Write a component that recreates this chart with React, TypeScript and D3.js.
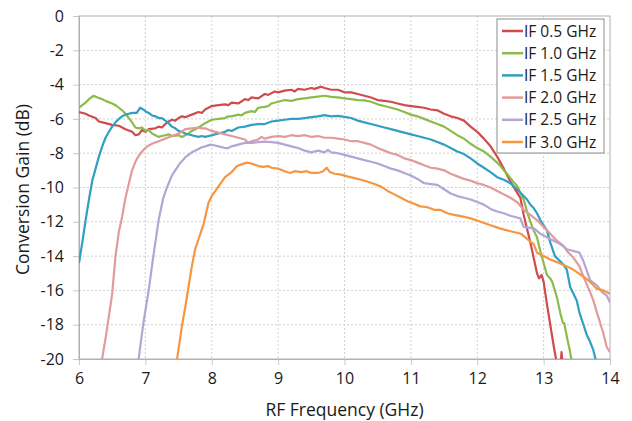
import React, { useEffect, useRef } from 'react';
import * as d3 from 'd3';

// Conversion gain vs RF frequency, one array of [GHz, dB] per IF
const if05: [number, number][] = [
  [6.0, -5.6], [6.1, -5.7], [6.15, -5.8], [6.25, -5.95], [6.3, -6.15], [6.4, -6.25], [6.5, -6.35], [6.6, -6.4],
  [6.7, -6.6], [6.8, -6.75], [6.85, -6.95], [6.9, -6.9], [6.95, -6.65], [7.0, -6.75], [7.05, -6.6], [7.15, -6.55],
  [7.2, -6.45], [7.25, -6.5], [7.3, -6.3], [7.35, -6.15], [7.4, -6.05], [7.45, -6.1], [7.5, -5.95], [7.55, -5.85],
  [7.6, -5.9], [7.7, -5.75], [7.8, -5.6], [7.85, -5.65], [7.9, -5.45], [8.0, -5.25], [8.1, -5.2], [8.2, -5.15],
  [8.25, -5.2], [8.3, -5.05], [8.4, -5.1], [8.5, -4.85], [8.55, -4.9], [8.6, -4.75], [8.7, -4.8], [8.8, -4.55],
  [8.85, -4.6], [8.95, -4.4], [9.0, -4.45], [9.1, -4.35], [9.2, -4.3], [9.25, -4.4], [9.3, -4.25], [9.4, -4.3],
  [9.5, -4.2], [9.55, -4.25], [9.65, -4.12], [9.7, -4.2], [9.8, -4.3], [9.9, -4.3], [10.0, -4.45], [10.1, -4.45],
  [10.2, -4.55], [10.3, -4.65], [10.4, -4.75], [10.5, -4.9], [10.6, -4.95], [10.7, -5.0], [10.8, -5.1], [10.9, -5.2],
  [11.0, -5.25], [11.1, -5.3], [11.2, -5.35], [11.3, -5.45], [11.4, -5.5], [11.5, -5.7], [11.6, -5.85], [11.7, -5.95],
  [11.8, -6.1], [11.9, -6.45], [12.0, -6.75], [12.1, -7.15], [12.2, -7.6], [12.3, -8.2], [12.4, -8.9], [12.5, -9.65],
  [12.6, -10.3], [12.65, -10.6], [12.7, -11.6], [12.75, -12.4], [12.8, -13.2], [12.85, -14.1], [12.9, -15.0],
  [12.93, -15.3], [12.97, -15.1], [13.0, -15.5], [13.05, -16.8], [13.1, -18.0], [13.15, -19.2], [13.2, -20.3],
  [13.24, -21.0], [13.27, -19.6], [13.3, -21.0],
];

const if10: [number, number][] = [
  [6.0, -5.35], [6.05, -5.2], [6.1, -5.05], [6.15, -4.85], [6.22, -4.65], [6.28, -4.75], [6.35, -4.85], [6.4, -4.95],
  [6.5, -5.1], [6.55, -5.2], [6.6, -5.35], [6.65, -5.5], [6.7, -5.7], [6.75, -5.95], [6.8, -6.2], [6.85, -6.5],
  [6.9, -6.55], [6.95, -6.5], [7.0, -6.7], [7.05, -6.65], [7.1, -6.85], [7.15, -6.95], [7.2, -7.05], [7.3, -6.95],
  [7.35, -6.9], [7.4, -7.0], [7.5, -6.95], [7.55, -7.05], [7.6, -6.95], [7.65, -6.85], [7.7, -6.7], [7.8, -6.5],
  [7.9, -6.25], [7.95, -6.15], [8.0, -6.05], [8.1, -6.0], [8.2, -5.95], [8.25, -5.85], [8.3, -5.85], [8.4, -5.75],
  [8.45, -5.8], [8.5, -5.65], [8.6, -5.55], [8.65, -5.6], [8.7, -5.35], [8.8, -5.3], [8.85, -5.25], [8.9, -5.1],
  [9.0, -5.0], [9.1, -4.9], [9.2, -4.95], [9.3, -4.85], [9.4, -4.8], [9.5, -4.75], [9.6, -4.7], [9.7, -4.65],
  [9.8, -4.72], [9.9, -4.75], [10.0, -4.8], [10.1, -4.85], [10.2, -4.9], [10.3, -4.92], [10.4, -5.0], [10.5, -5.15],
  [10.6, -5.25], [10.7, -5.35], [10.8, -5.45], [10.9, -5.6], [11.0, -5.75], [11.1, -5.85], [11.2, -6.0], [11.3, -6.15],
  [11.4, -6.3], [11.5, -6.45], [11.6, -6.7], [11.7, -6.95], [11.8, -7.15], [11.9, -7.45], [12.0, -7.7], [12.1, -7.9],
  [12.2, -8.2], [12.3, -8.55], [12.35, -8.75], [12.4, -9.0], [12.45, -9.2], [12.5, -9.45], [12.55, -9.7], [12.6, -9.9],
  [12.65, -10.3], [12.7, -10.7], [12.75, -11.4], [12.8, -12.0], [12.85, -12.5], [12.9, -12.9], [12.95, -13.7],
  [13.0, -14.4], [13.05, -15.1], [13.1, -15.3], [13.13, -15.5], [13.2, -16.4], [13.25, -17.3], [13.29, -17.9],
  [13.31, -17.9], [13.35, -18.7], [13.4, -19.6], [13.43, -20.3],
];

const if15: [number, number][] = [
  [6.0, -14.4], [6.05, -13.2], [6.1, -11.9], [6.15, -10.7], [6.2, -9.6], [6.25, -8.9], [6.3, -8.2], [6.35, -7.6],
  [6.4, -7.1], [6.45, -6.75], [6.5, -6.45], [6.55, -6.2], [6.6, -6.0], [6.65, -5.85], [6.7, -5.75], [6.75, -5.7],
  [6.8, -5.65], [6.87, -5.65], [6.92, -5.35], [6.97, -5.45], [7.0, -5.55], [7.05, -5.65], [7.1, -5.8], [7.15, -5.85],
  [7.2, -5.95], [7.25, -5.95], [7.3, -6.1], [7.35, -6.25], [7.4, -6.45], [7.45, -6.55], [7.5, -6.7], [7.55, -6.75],
  [7.6, -6.85], [7.7, -6.95], [7.8, -7.05], [7.85, -7.0], [7.9, -7.05], [8.0, -6.95], [8.05, -6.9], [8.1, -6.85],
  [8.2, -6.75], [8.25, -6.65], [8.3, -6.7], [8.4, -6.5], [8.5, -6.45], [8.6, -6.35], [8.7, -6.3], [8.8, -6.3],
  [8.9, -6.15], [9.0, -6.1], [9.1, -6.05], [9.2, -6.0], [9.3, -6.0], [9.4, -5.95], [9.5, -5.9], [9.6, -5.85],
  [9.7, -5.78], [9.8, -5.85], [9.9, -5.82], [10.0, -5.88], [10.1, -5.95], [10.2, -6.1], [10.3, -6.2], [10.4, -6.3],
  [10.5, -6.4], [10.6, -6.5], [10.7, -6.6], [10.8, -6.7], [10.9, -6.8], [11.0, -6.9], [11.1, -7.0], [11.2, -7.1],
  [11.3, -7.2], [11.4, -7.35], [11.5, -7.5], [11.6, -7.7], [11.7, -7.9], [11.8, -8.05], [11.9, -8.3], [12.0, -8.6],
  [12.1, -8.85], [12.2, -9.1], [12.3, -9.4], [12.4, -9.55], [12.5, -9.75], [12.6, -10.1], [12.65, -10.3],
  [12.7, -10.5], [12.75, -10.7], [12.8, -11.0], [12.85, -11.2], [12.9, -11.5], [12.95, -11.9], [13.0, -12.2],
  [13.05, -12.5], [13.1, -13.2], [13.17, -14.0], [13.25, -14.3], [13.3, -14.5], [13.35, -14.8], [13.4, -15.8],
  [13.45, -16.2], [13.5, -16.6], [13.54, -17.3], [13.6, -18.0], [13.65, -18.6], [13.7, -19.0], [13.75, -19.5],
  [13.8, -20.3],
];

const if20: [number, number][] = [
  [6.33, -20.5], [6.35, -19.95], [6.4, -18.8], [6.45, -17.5], [6.5, -16.2], [6.55, -14.0], [6.6, -12.6], [6.65, -11.7],
  [6.7, -10.6], [6.75, -9.8], [6.8, -9.0], [6.85, -8.5], [6.9, -8.15], [6.95, -7.9], [7.0, -7.7], [7.05, -7.55],
  [7.1, -7.45], [7.2, -7.3], [7.3, -7.15], [7.4, -7.0], [7.5, -6.85], [7.55, -6.75], [7.6, -6.6], [7.7, -6.55],
  [7.8, -6.5], [7.85, -6.55], [7.9, -6.55], [8.0, -6.7], [8.1, -6.8], [8.2, -6.9], [8.3, -7.0], [8.4, -7.1],
  [8.5, -7.2], [8.55, -7.4], [8.6, -7.3], [8.7, -7.2], [8.75, -7.05], [8.8, -7.15], [8.9, -7.05], [9.0, -7.0],
  [9.1, -7.05], [9.2, -6.95], [9.3, -7.0], [9.4, -6.95], [9.5, -7.05], [9.6, -7.0], [9.7, -7.1], [9.8, -7.1],
  [9.9, -7.15], [10.0, -7.2], [10.1, -7.3], [10.2, -7.3], [10.3, -7.4], [10.4, -7.5], [10.5, -7.7], [10.6, -7.85],
  [10.7, -8.0], [10.8, -8.1], [10.9, -8.3], [11.0, -8.4], [11.1, -8.55], [11.2, -8.7], [11.3, -8.85], [11.4, -8.9],
  [11.5, -9.0], [11.6, -9.2], [11.7, -9.35], [11.8, -9.5], [11.9, -9.6], [12.0, -9.75], [12.1, -9.85], [12.2, -10.0],
  [12.3, -10.2], [12.4, -10.4], [12.5, -10.6], [12.6, -10.85], [12.7, -11.3], [12.8, -11.6], [12.9, -11.9],
  [13.0, -12.3], [13.1, -12.7], [13.2, -13.1], [13.3, -13.4], [13.35, -13.7], [13.45, -14.1], [13.54, -14.6],
  [13.6, -15.2], [13.7, -16.1], [13.75, -16.6], [13.82, -17.5], [13.9, -18.5], [13.95, -19.3], [14.0, -19.6],
];

const if25: [number, number][] = [
  [6.88, -20.5], [6.9, -19.95], [6.97, -17.9], [7.05, -16.0], [7.12, -14.0], [7.2, -11.9], [7.27, -10.6], [7.33, -9.95],
  [7.4, -9.3], [7.45, -9.0], [7.52, -8.6], [7.6, -8.25], [7.7, -7.95], [7.78, -7.8], [7.85, -7.65], [7.9, -7.6],
  [7.98, -7.5], [8.05, -7.55], [8.1, -7.6], [8.2, -7.7], [8.25, -7.7], [8.3, -7.6], [8.4, -7.5], [8.5, -7.4],
  [8.6, -7.4], [8.7, -7.35], [8.8, -7.32], [8.9, -7.35], [9.0, -7.4], [9.1, -7.5], [9.2, -7.6], [9.3, -7.7],
  [9.4, -7.85], [9.5, -7.95], [9.6, -7.85], [9.7, -7.95], [9.75, -7.8], [9.8, -7.95], [9.9, -8.0], [10.0, -8.1],
  [10.1, -8.2], [10.2, -8.3], [10.3, -8.4], [10.4, -8.5], [10.5, -8.6], [10.6, -8.75], [10.7, -8.9], [10.8, -9.0],
  [10.9, -9.15], [11.0, -9.3], [11.1, -9.5], [11.2, -9.75], [11.3, -9.8], [11.4, -9.85], [11.5, -10.1], [11.6, -10.35],
  [11.7, -10.5], [11.8, -10.6], [11.9, -10.7], [12.0, -10.85], [12.1, -11.0], [12.2, -11.25], [12.3, -11.4],
  [12.4, -11.5], [12.5, -11.65], [12.6, -11.75], [12.65, -11.8], [12.7, -12.3], [12.8, -12.35], [12.86, -12.4],
  [12.95, -12.7], [13.05, -12.9], [13.15, -13.1], [13.25, -13.3], [13.35, -13.6], [13.45, -13.7], [13.54, -13.8],
  [13.6, -14.3], [13.7, -15.4], [13.8, -15.7], [13.88, -16.1], [13.95, -16.3], [14.0, -16.7],
];

const if30: [number, number][] = [
  [7.46, -20.5], [7.48, -19.95], [7.55, -18.1], [7.6, -17.0], [7.65, -15.8], [7.7, -14.6], [7.75, -13.6], [7.82, -12.8],
  [7.88, -12.1], [7.95, -10.9], [8.0, -10.5], [8.1, -9.95], [8.2, -9.4], [8.3, -9.1], [8.38, -8.75], [8.45, -8.65],
  [8.53, -8.55], [8.6, -8.6], [8.7, -8.75], [8.78, -8.8], [8.85, -8.75], [8.9, -8.85], [9.0, -8.9], [9.1, -9.05],
  [9.18, -9.15], [9.25, -9.05], [9.35, -9.1], [9.43, -9.05], [9.5, -9.15], [9.6, -9.15], [9.68, -9.05], [9.73, -8.85],
  [9.78, -9.1], [9.85, -9.2], [9.95, -9.25], [10.04, -9.35], [10.15, -9.45], [10.25, -9.55], [10.34, -9.65],
  [10.45, -9.8], [10.55, -9.95], [10.65, -10.2], [10.75, -10.4], [10.85, -10.6], [10.95, -10.8], [11.05, -10.95],
  [11.14, -11.1], [11.25, -11.15], [11.35, -11.3], [11.44, -11.3], [11.55, -11.5], [11.65, -11.6], [11.79, -11.7],
  [11.9, -11.8], [12.05, -12.0], [12.2, -12.2], [12.35, -12.4], [12.5, -12.55], [12.66, -12.7], [12.75, -13.0],
  [12.85, -13.3], [12.9, -13.8], [13.0, -14.0], [13.1, -14.2], [13.2, -14.35], [13.35, -14.6], [13.45, -14.8],
  [13.6, -15.2], [13.7, -15.5], [13.8, -15.9], [13.9, -16.0], [14.0, -16.2],
];

const seriesNames = ['IF 0.5 GHz', 'IF 1.0 GHz', 'IF 1.5 GHz', 'IF 2.0 GHz', 'IF 2.5 GHz', 'IF 3.0 GHz'];
const seriesData = [if05, if10, if15, if20, if25, if30];
const colors = ['#cf4b4e', '#8cbb4c', '#2f9fc2', '#e39a9a', '#b3a5d5', '#f7963f'];

const xTicks = [6, 7, 8, 9, 10, 11, 12, 13, 14];
const yTicks = [0, -2, -4, -6, -8, -10, -12, -14, -16, -18, -20];

const FONT = "'Open Sans', 'Noto Sans', sans-serif";

const App = () => {
  const ref = useRef<SVGSVGElement>(null);

  useEffect(() => {
    const svg = d3.select(ref.current);
    svg.selectAll('*').remove();

    const left = 79, right = 610, top = 16, bottom = 359;
    const x = d3.scaleLinear().domain([6, 14]).range([left, right]);
    const y = d3.scaleLinear().domain([-20, 0]).range([bottom, top]);

    svg.append('rect').attr('width', 632).attr('height', 421).attr('fill', '#fff');

    // dotted grid
    const grid = svg.append('g');
    xTicks.slice(1, -1).forEach(t => {
      grid.append('line')
        .attr('x1', x(t)).attr('x2', x(t)).attr('y1', top).attr('y2', bottom)
        .attr('stroke', '#cfcfcf').attr('stroke-dasharray', '2,2');
    });
    yTicks.slice(1, -1).forEach(t => {
      grid.append('line')
        .attr('x1', left).attr('x2', right).attr('y1', y(t)).attr('y2', y(t))
        .attr('stroke', '#cfcfcf').attr('stroke-dasharray', '2,2');
    });

    // axes (plain hyphen for negatives, like the original)
    const xAxis = svg.append('g')
      .attr('transform', `translate(0,${bottom})`)
      .call(d3.axisBottom(x).tickValues(xTicks).tickSize(6).tickPadding(8).tickFormat(d => String(d)));
    const yAxis = svg.append('g')
      .attr('transform', `translate(${left},0)`)
      .call(d3.axisLeft(y).tickValues(yTicks).tickSize(6).tickPadding(9).tickFormat(d => String(d)));
    [xAxis, yAxis].forEach(a => {
      a.select('.domain').attr('stroke', '#b0b0b0');
      a.selectAll('.tick line').attr('stroke', '#c8c8c8');
      a.selectAll('.tick text')
        .attr('fill', '#1a1a1a')
        .style('font-family', FONT)
        .style('font-size', '16px');
    });

    // plot frame
    svg.append('rect')
      .attr('x', left).attr('y', top).attr('width', right - left).attr('height', bottom - top)
      .attr('fill', 'none').attr('stroke', '#b0b0b0');

    svg.append('clipPath').attr('id', 'plot-clip')
      .append('rect').attr('x', left).attr('y', top).attr('width', right - left).attr('height', bottom - top);

    const line = d3.line<[number, number]>().x(d => x(d[0])).y(d => y(d[1]));

    const lines = svg.append('g').attr('clip-path', 'url(#plot-clip)');
    seriesData.forEach((s, i) => {
      lines.append('path')
        .datum(s)
        .attr('d', line)
        .attr('fill', 'none')
        .attr('stroke', colors[i])
        .attr('stroke-width', 2.2)
        .attr('stroke-linejoin', 'round');
    });

    // axis titles
    svg.append('text')
      .attr('x', (left + right) / 2).attr('y', 416)
      .attr('text-anchor', 'middle')
      .style('font-family', FONT).style('font-size', '17.5px').attr('fill', '#1a1a1a')
      .text('RF Frequency (GHz)');
    svg.append('text')
      .attr('transform', `translate(29,${(top + bottom) / 2 + 2}) rotate(-90)`)
      .attr('text-anchor', 'middle')
      .style('font-family', FONT).style('font-size', '17.5px').attr('fill', '#1a1a1a')
      .text('Conversion Gain (dB)');

    // legend
    const lg = svg.append('g');
    lg.append('rect')
      .attr('x', 497).attr('y', 19).attr('width', 107).attr('height', 134)
      .attr('fill', '#fff').attr('stroke', '#8c8c8c');
    seriesNames.forEach((name, i) => {
      const cy = 31 + i * 22.2;
      lg.append('line')
        .attr('x1', 502).attr('x2', 523).attr('y1', cy).attr('y2', cy)
        .attr('stroke', colors[i]).attr('stroke-width', 2.5);
      lg.append('text')
        .attr('x', 524).attr('y', cy).attr('dy', '0.36em')
        .style('font-family', FONT).style('font-size', '15.5px').attr('fill', '#1a1a1a')
        .text(name);
    });
  }, []);

  return (
    <svg ref={ref} width={632} height={421} style={{ position: 'absolute', left: 0, top: 0 }} />
  );
};

export default App;
